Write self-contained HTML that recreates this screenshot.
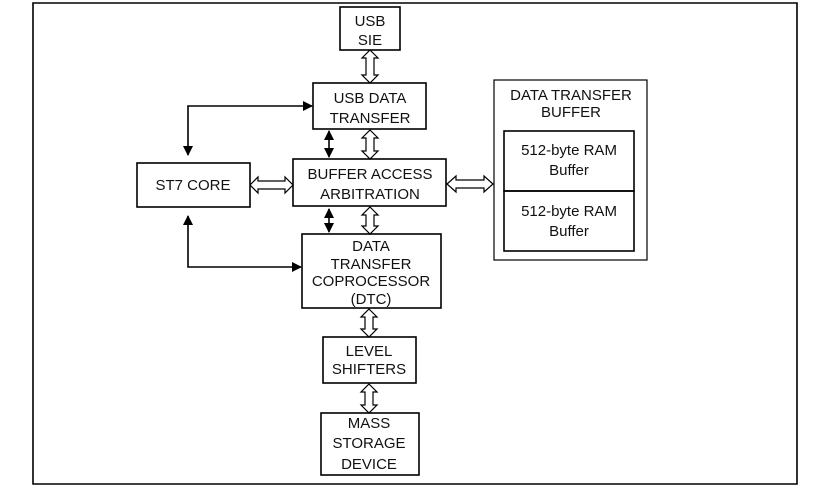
<!DOCTYPE html>
<html><head><style>
html,body{margin:0;padding:0;background:#fff;}
svg text{font-family:"Liberation Sans",Arial,sans-serif;font-size:15px;fill:#111;text-anchor:middle;}
</style></head><body>
<svg width="814" height="494" viewBox="0 0 814 494" xmlns="http://www.w3.org/2000/svg">
<defs>
<marker id="ah" markerWidth="10" markerHeight="10" refX="9" refY="5" orient="auto-start-reverse" markerUnits="userSpaceOnUse">
<path d="M0,0 L10,5 L0,10 Z" fill="#000"/></marker>
</defs>
<g fill="none" stroke="#000" stroke-width="1.6">
<path d="M33,3 H797 V484 H33 Z"/>
<rect x="340" y="7" width="60" height="43"/>
<rect x="313" y="83" width="113" height="46"/>
<rect x="137" y="163" width="113" height="44"/>
<rect x="293" y="159" width="153" height="47"/>
<rect x="302" y="234" width="139" height="74"/>
<rect x="323" y="337" width="93" height="46"/>
<rect x="321" y="413" width="98" height="62"/>
<rect x="494" y="80" width="153" height="180" stroke-width="1.2"/>
<rect x="504" y="131" width="130" height="60"/>
<rect x="504" y="191" width="130" height="60"/>
<path d="M312,106 H188 V155" marker-end="url(#ah)" marker-start="url(#ah)"/>
<path d="M188,216 V267 H301" marker-end="url(#ah)" marker-start="url(#ah)"/>
<path d="M329,131 V157" marker-end="url(#ah)" marker-start="url(#ah)"/>
<path d="M329,209 V232" marker-end="url(#ah)" marker-start="url(#ah)"/>
</g>
<g fill="#fff" stroke="#000" stroke-width="1.2">
<path d="M370,50 L378,58 L374,58 L374,75 L378,75 L370,83 L362,75 L366,75 L366,58 L362,58 Z"/>
<path d="M370,130 L378,138 L374,138 L374,151 L378,151 L370,159 L362,151 L366,151 L366,138 L362,138 Z"/>
<path d="M370,207 L378,215 L374,215 L374,226 L378,226 L370,234 L362,226 L366,226 L366,215 L362,215 Z"/>
<path d="M369,309 L377,317 L373,317 L373,329 L377,329 L369,337 L361,329 L365,329 L365,317 L361,317 Z"/>
<path d="M369,384 L377,392 L373,392 L373,405 L377,405 L369,413 L361,405 L365,405 L365,392 L361,392 Z"/>
<path d="M250,185 L258,177 L258,181 L285,181 L285,177 L293,185 L285,193 L285,189 L258,189 L258,193 Z"/>
<path d="M447,184 L456,176 L456,180 L484,180 L484,176 L493,184 L484,192 L484,188 L456,188 L456,192 Z"/>
</g>
<text x="370" y="26">USB</text><text x="370" y="45">SIE</text>
<text x="370" y="103">USB DATA</text><text x="370" y="123">TRANSFER</text>
<text x="193" y="190">ST7 CORE</text>
<text x="370" y="179">BUFFER ACCESS</text><text x="370" y="199">ARBITRATION</text>
<text x="371" y="251">DATA</text><text x="371" y="269">TRANSFER</text><text x="371" y="286">COPROCESSOR</text><text x="371" y="304">(DTC)</text>
<text x="369" y="356">LEVEL</text><text x="369" y="374">SHIFTERS</text>
<text x="369" y="428">MASS</text><text x="369" y="448">STORAGE</text><text x="369" y="469">DEVICE</text>
<text x="571" y="100">DATA TRANSFER</text><text x="571" y="117">BUFFER</text>
<text x="569" y="155">512-byte RAM</text><text x="569" y="175">Buffer</text>
<text x="569" y="216">512-byte RAM</text><text x="569" y="236">Buffer</text>
</svg>
</body></html>
